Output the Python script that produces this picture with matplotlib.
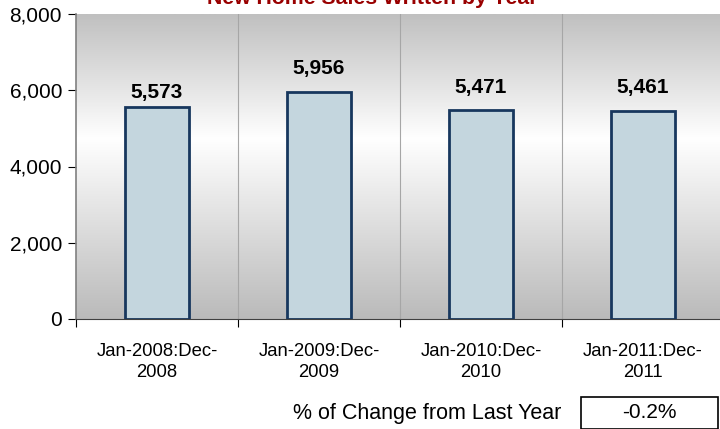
import numpy as np
import matplotlib.pyplot as plt
from matplotlib.colors import LinearSegmentedColormap
from matplotlib.patches import Rectangle

# datos
periodos = ['Jan-2008:Dec-\n2008', 'Jan-2009:Dec-\n2009', 'Jan-2010:Dec-\n2010', 'Jan-2011:Dec-\n2011']
ventas = [5573, 5956, 5471, 5461]
cambio = '-0.2%'
titulo = 'New Home Sales Written by Year'
yticks = [0, 2000, 4000, 6000, 8000]

plt.rcParams['font.family'] = ['Liberation Sans', 'DejaVu Sans']

fig = plt.figure(figsize=(7.2, 4.29), dpi=100)
ax = fig.add_axes([76/720, 110/429, 644/720, 305/429])

x = np.arange(len(ventas))
ax.set_xlim(-0.5, 3.475)
ax.set_ylim(0, 8000)

# fondo degradado gris-blanco-gris
cmap = LinearSegmentedColormap.from_list('fondo', [(0, '#bababa'), (0.59, '#ffffff'), (1, '#c0c0c0')])
grad = np.linspace(0, 1, 256).reshape(-1, 1)
ax.imshow(grad, aspect='auto', cmap=cmap, origin='lower',
          extent=[-0.5, 3.475, 0, 8000], zorder=0)

# separadores verticales
for b in [0.5, 1.5, 2.5]:
    ax.axvline(b, color='#a6a6a6', lw=0.8, zorder=1)

ax.bar(x, ventas, width=0.4, color='#c4d6de', edgecolor='#17375e', lw=2, zorder=2)
desfase = [3, 10, 10, 10]  # Excel coloca la primera etiqueta mas cerca
for xi, v, d in zip(x, ventas, desfase):
    ax.annotate(f'{v:,}', (xi, v), xytext=(0, d), textcoords='offset points',
                ha='center', va='bottom', fontsize=15, fontweight='bold')

ax.set_yticks(yticks)
ax.set_yticklabels([f'{t:,}' for t in yticks], fontsize=15)
ax.set_xticks([-0.5, 0.5, 1.5, 2.5], labels=[])
ax.set_xticks(x, labels=periodos, minor=True, fontsize=13.3)
for t in ax.get_xticklabels(minor=True):
    t.set_linespacing(1.35)
ax.tick_params(axis='x', which='minor', length=0, pad=17)
ax.tick_params(axis='x', which='major', length=6, direction='out')
ax.tick_params(axis='y', length=6, direction='out', pad=4)

for s in ['top', 'right']:
    ax.spines[s].set_visible(False)
ax.spines['left'].set_color('#808080')
ax.spines['left'].set_linewidth(1.2)
ax.spines['bottom'].set_color('#404040')

fig.text(372/720, 1 - 4/429, titulo, ha='center', va='baseline', fontsize=15.3,
         fontweight='bold', color='#990000')

fig.text(561/720, 1 - 413/429, '% of Change from Last Year', ha='right', va='center', fontsize=15.5)
fig.patches.append(Rectangle((581/720, 0), 137/720, 32/429, transform=fig.transFigure,
                             fc='white', ec='black', lw=1.2))
fig.text(649/720, 1 - 413/429, cambio, ha='center', va='center', fontsize=15)

fig.savefig('out.png', dpi=100)
